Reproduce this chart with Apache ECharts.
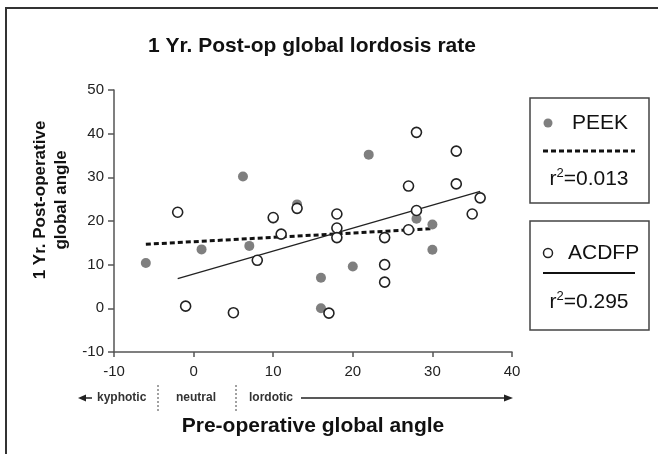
<!DOCTYPE html>
<html lang="en">
<head>
    <meta charset="UTF-8">
    <title>1 Yr. Post-op global lordosis rate</title>
    <script src="https://cdn.jsdelivr.net/npm/echarts@6/dist/echarts.min.js"></script>
    <style>
        html, body { margin: 0; padding: 0; background: #fff; }
    </style>
</head>
<body>
<div id="chart" style="width: 658px;height:454px;"></div>

<script type="text/javascript">
    // pre-op angle (x) and 1 yr post-op angle (y)
    var peekX = [-6, 1, 6.2, 7, 10, 13, 16, 16, 20, 22, 28, 30, 30];
    var peekY = [10.4, 13.5, 30.2, 14.3, 20.5, 23.8, 7, 0, 9.6, 35.2, 20.5, 19.2, 13.4];

    var acdfpX = [-2, -1, 5, 8, 10, 11, 13, 17, 18, 18, 18, 24, 24, 24, 27, 27, 28, 28, 33, 33, 35, 36];
    var acdfpY = [22, 0.5, -1, 11, 20.8, 17, 22.9, -1.1, 21.6, 18.4, 16.2, 16.2, 10, 6, 18, 28, 40.3, 22.4, 36, 28.5, 21.6, 25.3];

    var xTicks = [-10, 0, 10, 20, 30, 40];
    var yTicks = [-10, 0, 10, 20, 30, 40, 50];

    var font = "'Liberation Sans', Arial, sans-serif";

    function pairs(xs, ys) {
        return xs.map(function (x, i) { return [x, ys[i]]; });
    }

    // least squares line over the range of x
    function fitLine(xs, ys) {
        var n = xs.length, mx = 0, my = 0, sxy = 0, sxx = 0;
        for (var i = 0; i < n; i++) { mx += xs[i]; my += ys[i]; }
        mx /= n; my /= n;
        for (var j = 0; j < n; j++) {
            sxy += (xs[j] - mx) * (ys[j] - my);
            sxx += (xs[j] - mx) * (xs[j] - mx);
        }
        var b = sxy / sxx, a = my - b * mx;
        var lo = Math.min.apply(null, xs), hi = Math.max.apply(null, xs);
        return [[lo, a + b * lo], [hi, a + b * hi]];
    }

    var myChart = echarts.init(document.getElementById('chart'));

    var option = {
        animation: false,
        textStyle: { fontFamily: font },
        title: {
            text: '1 Yr. Post-op global lordosis rate',
            left: 143,
            top: 31,
            textStyle: { fontSize: 21, fontWeight: 'bold', color: '#111', fontFamily: font }
        },
        grid: { left: 114, right: 146, top: 90, bottom: 102 },
        xAxis: {
            type: 'value',
            min: xTicks[0],
            max: xTicks[xTicks.length - 1],
            interval: 10,
            splitLine: { show: false },
            axisLine: { onZero: false, lineStyle: { color: '#555', width: 1.5 } },
            axisTick: { length: 5, lineStyle: { color: '#555', width: 1.5 } },
            axisLabel: { fontSize: 15, color: '#222', margin: 12 },
            name: 'Pre-operative global angle',
            nameLocation: 'middle',
            nameGap: 64,
            nameTextStyle: { fontSize: 21, fontWeight: 'bold', color: '#111' }
        },
        yAxis: {
            type: 'value',
            min: yTicks[0],
            max: yTicks[yTicks.length - 1],
            interval: 10,
            splitLine: { show: false },
            axisLine: { onZero: false, lineStyle: { color: '#555', width: 1.5 } },
            axisTick: { length: 6, lineStyle: { color: '#555', width: 1.5 } },
            axisLabel: { fontSize: 15, color: '#222', margin: 10 }
        },
        series: [
            {
                name: 'PEEK fit',
                type: 'line',
                data: fitLine(peekX, peekY),
                symbol: 'none',
                z: 1,
                lineStyle: { color: '#111', width: 3, type: [5, 3] }
            },
            {
                name: 'ACDFP fit',
                type: 'line',
                data: fitLine(acdfpX, acdfpY),
                symbol: 'none',
                z: 1,
                lineStyle: { color: '#222', width: 1.3 }
            },
            {
                name: 'PEEK',
                type: 'scatter',
                data: pairs(peekX, peekY),
                symbolSize: 10,
                z: 3,
                itemStyle: { color: '#7f7f7f', opacity: 1 }
            },
            {
                name: 'ACDFP',
                type: 'scatter',
                data: pairs(acdfpX, acdfpY),
                symbolSize: 10,
                z: 4,
                itemStyle: { color: '#fff', borderColor: '#222', borderWidth: 1.6, opacity: 1 }
            }
        ],
        graphic: [
            // outer frame
            { type: 'polyline', shape: { points: [[6, 454], [6, 8], [658, 8]] },
              style: { stroke: '#333', lineWidth: 2, fill: null } },
            // y axis name
            { type: 'text', x: 51, y: 200, rotation: Math.PI / 2,
              style: { text: '1 Yr. Post-operative\nglobal angle', font: 'bold 17px ' + font,
                       fill: '#111', align: 'center', verticalAlign: 'middle', lineHeight: 21 } },
            // legend box PEEK
            { type: 'rect', shape: { x: 530, y: 98, width: 119, height: 105 },
              style: { stroke: '#444', lineWidth: 1.5, fill: '#fff' } },
            { type: 'circle', shape: { cx: 548, cy: 123, r: 4.5 }, style: { fill: '#7f7f7f' } },
            { type: 'text', x: 572, y: 123,
              style: { text: 'PEEK', font: '21px ' + font, fill: '#111', verticalAlign: 'middle' } },
            { type: 'line', shape: { x1: 543, y1: 151, x2: 635, y2: 151 },
              style: { stroke: '#111', lineWidth: 3, lineDash: [5, 3] } },
            { type: 'text', x: 589, y: 179,
              style: { text: '{r|r}{s|2}{r|=0.013}', align: 'center', verticalAlign: 'middle', fill: '#111',
                       rich: { r: { fontSize: 21, lineHeight: 24, fontFamily: font },
                               s: { fontSize: 13, lineHeight: 24, verticalAlign: 'top', fontFamily: font } } } },
            // legend box ACDFP
            { type: 'rect', shape: { x: 530, y: 221, width: 119, height: 109 },
              style: { stroke: '#444', lineWidth: 1.5, fill: '#fff' } },
            { type: 'circle', shape: { cx: 548, cy: 253, r: 4.5 },
              style: { fill: '#fff', stroke: '#222', lineWidth: 1.5 } },
            { type: 'text', x: 568, y: 253,
              style: { text: 'ACDFP', font: '21px ' + font, fill: '#111', verticalAlign: 'middle' } },
            { type: 'line', shape: { x1: 543, y1: 273, x2: 635, y2: 273 },
              style: { stroke: '#111', lineWidth: 2 } },
            { type: 'text', x: 589, y: 302,
              style: { text: '{r|r}{s|2}{r|=0.295}', align: 'center', verticalAlign: 'middle', fill: '#111',
                       rich: { r: { fontSize: 21, lineHeight: 24, fontFamily: font },
                               s: { fontSize: 13, lineHeight: 24, verticalAlign: 'top', fontFamily: font } } } },
            // kyphotic / neutral / lordotic strip
            { type: 'polygon', shape: { points: [[78, 398], [86, 394.5], [86, 401.5]] }, style: { fill: '#222' } },
            { type: 'line', shape: { x1: 84, y1: 398, x2: 92, y2: 398 }, style: { stroke: '#222', lineWidth: 1.5 } },
            { type: 'text', x: 97, y: 398,
              style: { text: 'kyphotic', font: 'bold 12px ' + font, fill: '#333', verticalAlign: 'middle' } },
            { type: 'line', shape: { x1: 158, y1: 385, x2: 158, y2: 411 },
              style: { stroke: '#444', lineWidth: 1, lineDash: [2, 2] } },
            { type: 'text', x: 176, y: 398,
              style: { text: 'neutral', font: 'bold 12px ' + font, fill: '#333', verticalAlign: 'middle' } },
            { type: 'line', shape: { x1: 236, y1: 385, x2: 236, y2: 411 },
              style: { stroke: '#444', lineWidth: 1, lineDash: [2, 2] } },
            { type: 'text', x: 249, y: 398,
              style: { text: 'lordotic', font: 'bold 12px ' + font, fill: '#333', verticalAlign: 'middle' } },
            { type: 'line', shape: { x1: 301, y1: 398, x2: 506, y2: 398 }, style: { stroke: '#222', lineWidth: 1.5 } },
            { type: 'polygon', shape: { points: [[513, 398], [504, 394.5], [504, 401.5]] }, style: { fill: '#222' } }
        ]
    };

    myChart.setOption(option);
</script>
</body>
</html>
